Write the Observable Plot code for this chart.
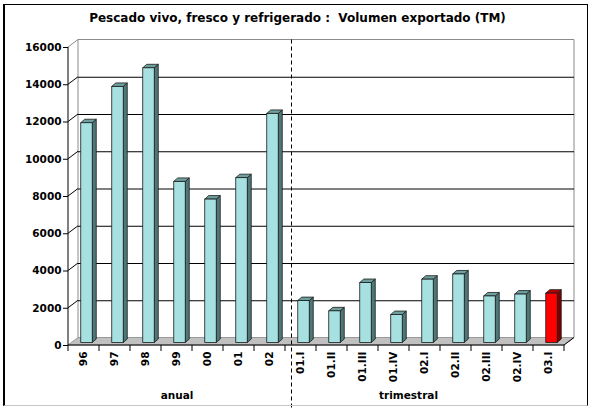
<!DOCTYPE html>
<html>
<head>
<meta charset="utf-8">
<script src="https://cdn.jsdelivr.net/npm/d3@7"></script>
<script src="https://cdn.jsdelivr.net/npm/@observablehq/plot@0.6"></script>
<style>
html, body { margin: 0; padding: 0; background: #fff; }
#wrap { position: relative; width: 589px; height: 409px; overflow: hidden; font-family: "DejaVu Sans", sans-serif; }
#title { height: 30px; box-sizing: border-box; padding-top: 10px; padding-left: 6px; line-height: 16px; text-align: center; font-weight: bold; font-size: 12px; white-space: pre; color: #000; }
#chart svg { display: block; }
#border { position: absolute; left: 3px; top: 4px; width: 582px; height: 400px; border-left: 2px solid #000; border-top: 1px solid #000; border-right: 1px solid #000; border-bottom: 1px solid #c8c8c8; pointer-events: none; }
</style>
</head>
<body>
<div id="wrap">
  <div id="title"></div>
  <div id="chart"></div>
  <div id="border"></div>
</div>
<script>
// ---- data ----
const titleText = "Pescado vivo, fresco y refrigerado :  Volumen exportado (TM)";
const categories = ["96", "97", "98", "99", "00", "01", "02",
  "01.I", "01.II", "01.III", "01.IV", "02.I", "02.II", "02.III", "02.IV", "03.I"];
const volumes = [11800, 13750, 14750, 8650, 7700, 8850, 12300,
  2250, 1700, 3220, 1500, 3400, 3680, 2500, 2600, 2650];
const yTicks = [0, 2000, 4000, 6000, 8000, 10000, 12000, 14000, 16000];
const groupLabels = ["anual", "trimestral"];
const groupAnchors = ["99", "02.I"];
const dividerAt = "01.I";
const highlight = "03.I";

const data = categories.map((c, i) => ({cat: c, value: volumes[i]}));

// ---- styling ----
const COL = {
  front: "#a6e0e0", side: "#4c7878", top: "#6e9f9f",
  hFront: "#ff0000", hSide: "#7a0000", hTop: "#b80000"
};
const WALL = {dx: 10, dy: -7.5};
const BAR = {inset: 9.75, dx: 3, dy: -2.5, ddx: 4, ddy: -3.5};
const FONT = {fontSize: 10.5, fontWeight: "bold"};

document.getElementById("title").textContent = titleText;

function info(scales, dims) {
  const x = scales.x, y = scales.y;
  const bw = x.bandwidth ? x.bandwidth()
    : (dims.width - dims.marginLeft - dims.marginRight) / categories.length;
  const L = x(categories[0]);
  const R = x(categories[categories.length - 1]) + bw;
  return {x, y, bw, L, R, y0: y(0), yT: y(d3.max(yTicks))};
}

// floor + back/side walls
function wallsMark(index, scales, values, dims) {
  const {y, L, R, y0, yT} = info(scales, dims);
  const {dx, dy} = WALL;
  const g = d3.create("svg:g");
  g.append("path")
    .attr("d", `M${L},${y0}L${R},${y0}L${R + dx},${y0 + dy}L${L + dx},${y0 + dy}Z`)
    .attr("fill", "#c0c0c0").attr("stroke", "#9a9a9a");
  g.append("path")
    .attr("d", `M${L + dx},${y0 + dy}V${yT + dy}H${R + dx}V${y0 + dy}`)
    .attr("fill", "none").attr("stroke", "#8c8c8c");
  for (const t of yTicks) {
    if (t === 0) continue;
    g.append("line")
      .attr("x1", L).attr("y1", y(t)).attr("x2", L + dx).attr("y2", y(t) + dy)
      .attr("stroke", t === d3.max(yTicks) ? "#8c8c8c" : "#000");
  }
  return g.node();
}

// front axis lines, floor edge, category boundary ticks
function frontAxesMark(index, scales, values, dims) {
  const {x, L, R, y0, yT} = info(scales, dims);
  const g = d3.create("svg:g").attr("stroke", "#000").attr("fill", "none");
  g.append("path").attr("d", `M${L},${yT}V${y0}H${R}L${R + WALL.dx},${y0 + WALL.dy}`);
  const bounds = categories.map(c => x(c)).concat([R]);
  for (const b of bounds) {
    g.append("line").attr("x1", b).attr("x2", b).attr("y1", y0).attr("y2", y0 + 6);
  }
  return g.node();
}

// side and top faces of every column
function barDepthMark(index, scales, values, dims) {
  const {x, y, bw} = info(scales, dims);
  const g = d3.create("svg:g").attr("stroke", "#1a1a1a").attr("stroke-width", 0.8);
  data.forEach(d => {
    const hi = d.cat === highlight;
    const x0 = x(d.cat) + BAR.inset + BAR.dx;
    const x1 = x(d.cat) + bw - BAR.inset + BAR.dx;
    const yt = y(d.value) + BAR.dy, yb = y(0) + BAR.dy;
    g.append("path")
      .attr("d", `M${x1},${yb}V${yt}L${x1 + BAR.ddx},${yt + BAR.ddy}V${yb + BAR.ddy}Z`)
      .attr("fill", hi ? COL.hSide : COL.side);
    g.append("path")
      .attr("d", `M${x0},${yt}H${x1}L${x1 + BAR.ddx},${yt + BAR.ddy}H${x0 + BAR.ddx}Z`)
      .attr("fill", hi ? COL.hTop : COL.top);
  });
  return g.node();
}

// dashed divider between annual and quarterly
function dividerMark(index, scales, values, dims) {
  const {x, yT} = info(scales, dims);
  const xd = x(dividerAt) + 6.5;
  return d3.create("svg:line")
    .attr("x1", xd).attr("x2", xd)
    .attr("y1", yT + WALL.dy).attr("y2", dims.height)
    .attr("stroke", "#000").attr("stroke-dasharray", "4,3").node();
}

const chart = Plot.plot({
  width: 589,
  height: 379,
  marginLeft: 68,
  marginRight: 25,
  marginTop: 17,
  marginBottom: 64,
  x: {domain: categories, padding: 0, round: false, axis: null},
  y: {domain: [0, 16000], axis: null},
  color: {type: "identity"},
  style: {background: "transparent", color: "#000", fontFamily: "DejaVu Sans", fontSize: "10.5px", overflow: "visible"},
  marks: [
    wallsMark,
    Plot.ruleY(yTicks.filter(t => t > 0 && t < d3.max(yTicks)), {dx: WALL.dx, dy: WALL.dy, stroke: "#000"}),
    frontAxesMark,
    barDepthMark,
    Plot.barY(data, {
      x: "cat", y: "value",
      insetLeft: BAR.inset, insetRight: BAR.inset, dx: BAR.dx, dy: BAR.dy,
      fill: d => d.cat === highlight ? COL.hFront : COL.front,
      stroke: "#1a1a1a", strokeWidth: 0.8
    }),
    dividerMark,
    Plot.axisY(yTicks, {anchor: "left", tickSize: 5, tickPadding: 2, label: null, tickFormat: d => String(d), ...FONT}),
    Plot.axisX({anchor: "bottom", tickSize: 0, tickPadding: 6, tickRotate: -90, label: null, ...FONT}),
    Plot.text([groupLabels[0]], {x: () => groupAnchors[0], frameAnchor: "bottom", dy: 53, ...FONT}),
    Plot.text([groupLabels[1]], {x: () => groupAnchors[1], frameAnchor: "bottom", dy: 53, dx: -16.5, ...FONT})
  ]
});
document.getElementById("chart").appendChild(chart);
</script>
</body>
</html>
